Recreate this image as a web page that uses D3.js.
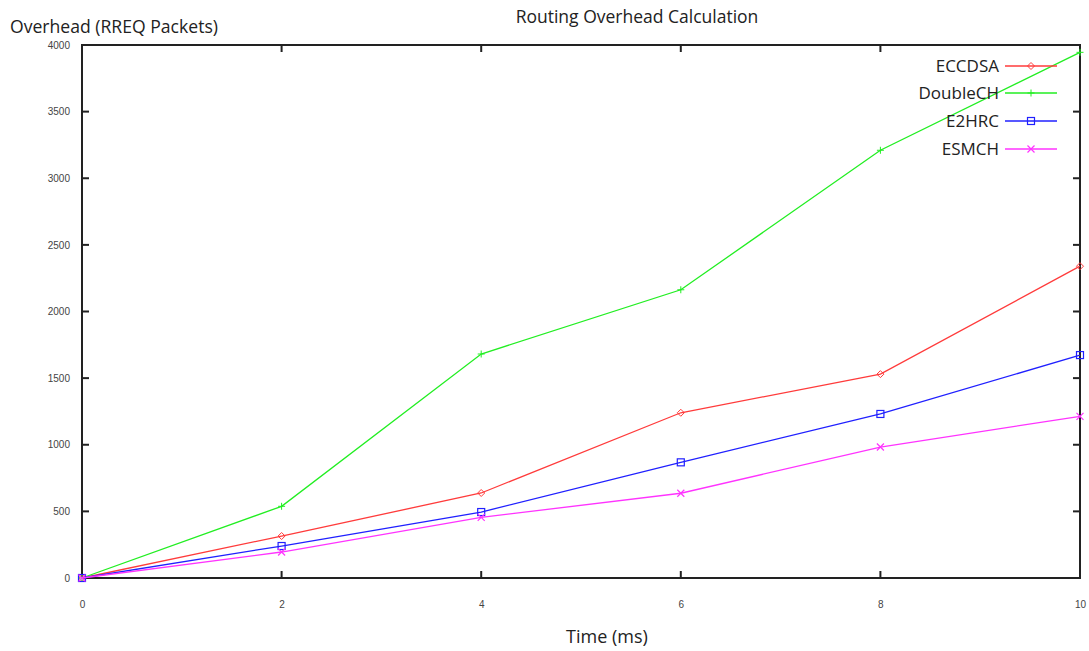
<!DOCTYPE html>
<html><head><meta charset="utf-8">
<script src="https://cdn.jsdelivr.net/npm/d3@7"></script>
<style>body{margin:0;background:#fff;} svg{display:block;}</style>
</head><body>
<svg id="chart" width="1089" height="651"></svg>
<script>
const times = [0, 2, 4, 6, 8, 10];
const seriesNames = ["ECCDSA", "DoubleCH", "E2HRC", "ESMCH"];
const eccdsa   = [0, 315, 638, 1240, 1530, 2340];
const doublech = [0, 538, 1681, 2163, 3210, 3945];
const e2hrc    = [0, 240, 495, 868, 1231, 1673];
const esmch    = [0, 195, 455, 636, 983, 1213];
const xTicks = [0, 2, 4, 6, 8, 10];
const yTicks = [0, 500, 1000, 1500, 2000, 2500, 3000, 3500, 4000];
const colors = ["#ff3b3b", "#22ee22", "#2020ff", "#ff33ff"];
const symbols = ["diamond", "plus", "square", "cross"];

const seriesData = [eccdsa, doublech, e2hrc, esmch];
const svg = d3.select("#chart");
const L = 82, R = 1080, T = 45, B = 578;
const x = d3.scaleLinear().domain([0, 10]).range([L, R]);
const y = d3.scaleLinear().domain([0, 4000]).range([B, T]);

const tickFont = "'Liberation Sans Narrow', 'Arial Narrow', 'Liberation Sans', sans-serif";
const labelFont = "'Open Sans', 'Noto Sans', sans-serif";

// axis labels
const xAx = d3.axisBottom(x).tickValues(xTicks).tickFormat(d3.format("d")).tickSize(0).tickPadding(23);
svg.append("g").attr("transform", `translate(0,${B})`).call(xAx)
  .call(g => g.select(".domain").remove())
  .selectAll("text").attr("font-family", tickFont).attr("font-size", 10).attr("fill", "#444");
const yAx = d3.axisLeft(y).tickValues(yTicks).tickFormat(d3.format("d")).tickSize(0).tickPadding(12);
svg.append("g").attr("transform", `translate(${L},0)`).call(yAx)
  .call(g => g.select(".domain").remove())
  .selectAll("text").attr("font-family", tickFont).attr("font-size", 10).attr("fill", "#444");

// inward ticks on all sides
const tk = svg.append("g").attr("stroke", "#222").attr("stroke-width", 2);
xTicks.forEach(v => {
  tk.append("line").attr("x1", x(v)).attr("x2", x(v)).attr("y1", B).attr("y2", B - 7);
  tk.append("line").attr("x1", x(v)).attr("x2", x(v)).attr("y1", T).attr("y2", T + 7);
});
yTicks.forEach(v => {
  tk.append("line").attr("x1", L).attr("x2", L + 7).attr("y1", y(v)).attr("y2", y(v));
  tk.append("line").attr("x1", R).attr("x2", R - 7).attr("y1", y(v)).attr("y2", y(v));
});
svg.append("rect").attr("x", L).attr("y", T).attr("width", R - L).attr("height", B - T)
  .attr("fill", "none").attr("stroke", "#222").attr("stroke-width", 2);

function sym(g, type, cx, cy, color) {
  const s = 3.5;
  if (type === "diamond") {
    g.append("path").attr("d", `M${cx},${cy - s}L${cx + s},${cy}L${cx},${cy + s}L${cx - s},${cy}Z`)
      .attr("fill", "none").attr("stroke", color).attr("stroke-width", 1);
  } else if (type === "plus") {
    g.append("path").attr("d", `M${cx - s},${cy}H${cx + s}M${cx},${cy - s}V${cy + s}`)
      .attr("stroke", color).attr("stroke-width", 1);
  } else if (type === "square") {
    g.append("rect").attr("x", cx - s).attr("y", cy - s).attr("width", 2 * s).attr("height", 2 * s)
      .attr("fill", "none").attr("stroke", color).attr("stroke-width", 1.2);
  } else {
    g.append("path").attr("d", `M${cx - s},${cy - s}L${cx + s},${cy + s}M${cx - s},${cy + s}L${cx + s},${cy - s}`)
      .attr("stroke", color).attr("stroke-width", 1.2);
  }
}

const line = d3.line().x((d, i) => x(times[i])).y(d => y(d));
seriesData.forEach((vals, k) => {
  const g = svg.append("g");
  g.append("path").attr("d", line(vals)).attr("fill", "none")
    .attr("stroke", colors[k]).attr("stroke-width", 1.3);
  vals.forEach((v, i) => sym(g, symbols[k], x(times[i]), y(v), colors[k]));
});

// legend
const legY = [66, 93, 121, 149];
seriesNames.forEach((n, k) => {
  const g = svg.append("g");
  g.append("text").attr("x", 999).attr("y", legY[k] + 6).attr("text-anchor", "end")
    .attr("font-family", labelFont).attr("font-size", 17).attr("fill", "#222").text(n);
  g.append("line").attr("x1", 1005).attr("x2", 1057).attr("y1", legY[k]).attr("y2", legY[k])
    .attr("stroke", colors[k]).attr("stroke-width", 1.3);
  sym(g, symbols[k], 1031, legY[k], colors[k]);
});

// titles
svg.append("text").attr("x", 637).attr("y", 23).attr("text-anchor", "middle")
  .attr("font-family", labelFont).attr("font-size", 17.5).attr("fill", "#222")
  .text("Routing Overhead Calculation");
svg.append("text").attr("x", 10).attr("y", 33)
  .attr("font-family", labelFont).attr("font-size", 17.6).attr("fill", "#222")
  .text("Overhead (RREQ Packets)");
svg.append("text").attr("x", 607).attr("y", 643).attr("text-anchor", "middle")
  .attr("font-family", labelFont).attr("font-size", 18).attr("fill", "#222")
  .text("Time (ms)");
</script>
</body></html>
